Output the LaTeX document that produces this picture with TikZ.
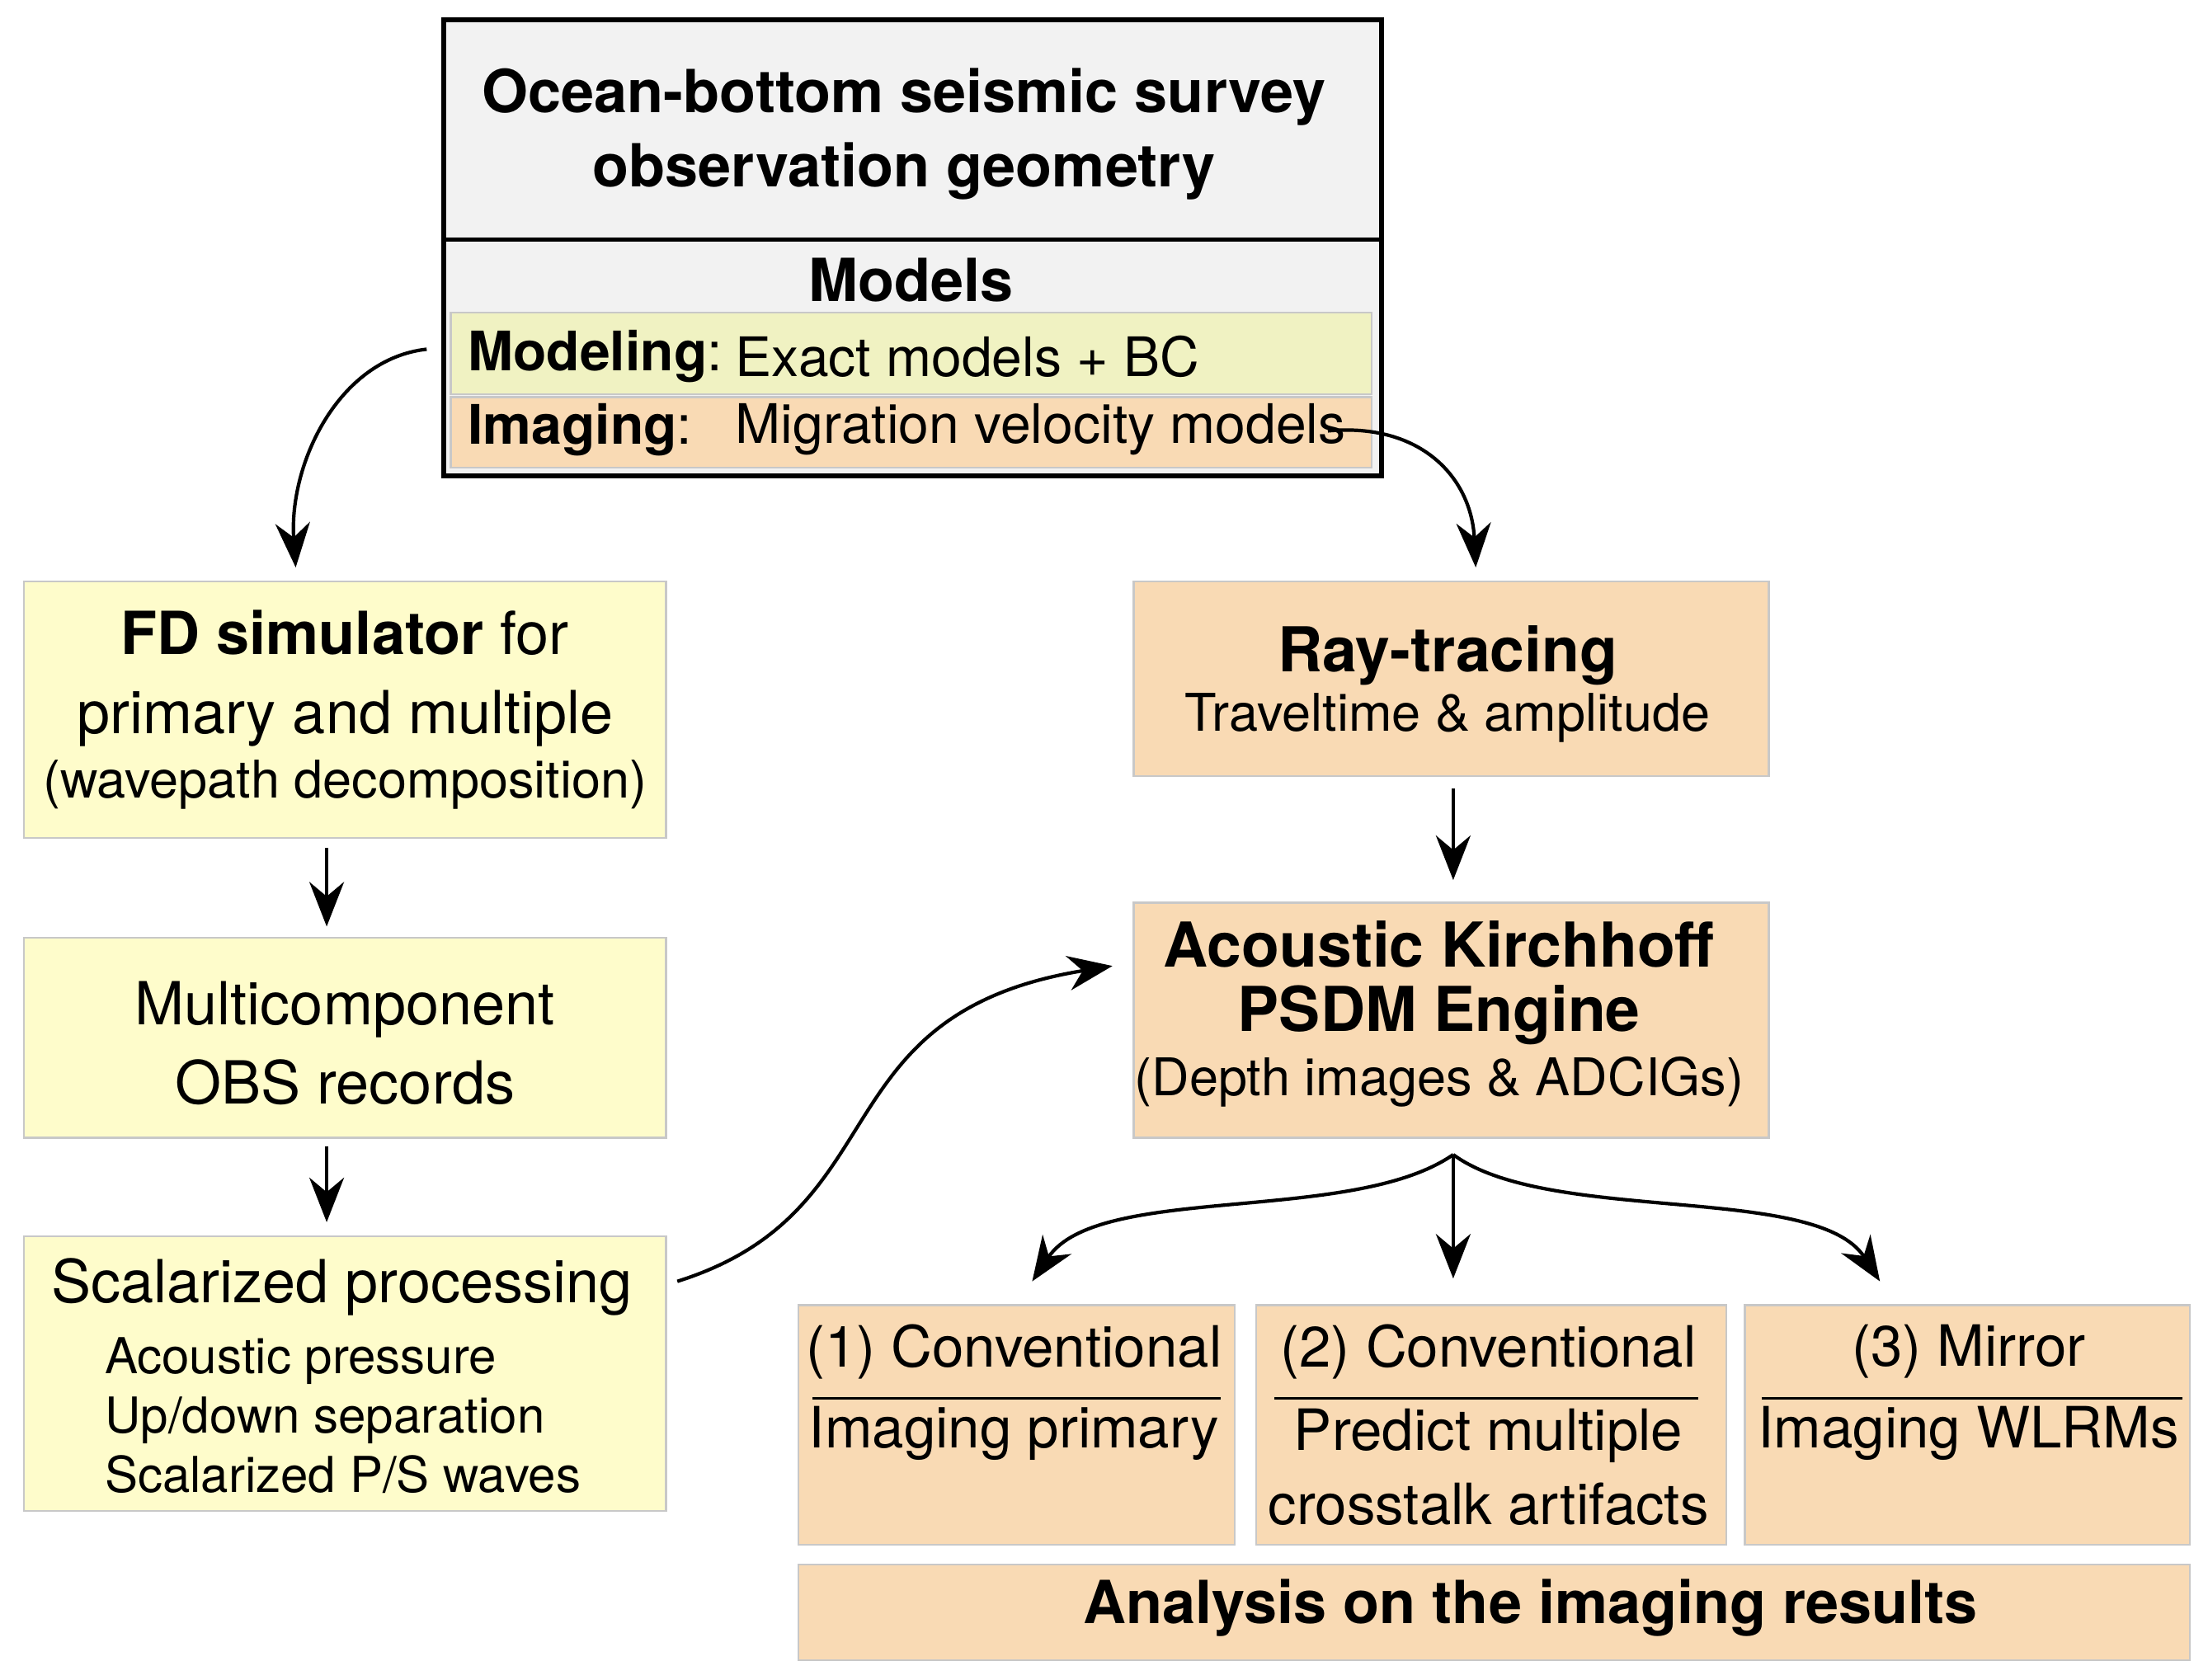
\documentclass[tikz,border=0pt]{standalone}
\usepackage{fontspec}
\setmainfont{TeX Gyre Heros}
\usetikzlibrary{arrows.meta}
\definecolor{gy}{HTML}{F2F2F2}
\definecolor{yl}{HTML}{FEFCCB}
\definecolor{ylg}{HTML}{F0F2C2}
\definecolor{or}{HTML}{F9DAB4}
\definecolor{bd}{HTML}{C8C8C8}
\tikzset{
 bx/.style={draw=bd,line width=0.8pt},
 big/.style={font=\fontsize{12}{14}\selectfont},
 mid/.style={font=\fontsize{10}{12}\selectfont},
 arr/.style={-{Stealth[length=9pt,width=7pt]},line width=0.7pt},
}
\begin{document}
\begin{tikzpicture}[x=0.01cm,y=-0.01cm]
\useasboundingbox (0,0) rectangle (1568,1193);
% top box
\fill[gy] (315,14) rectangle (981,338);
\fill[ylg,draw=bd] (320,222) rectangle (974,280);
\fill[or,draw=bd] (320,282) rectangle (974,332);
\draw[line width=1pt] (315,14) rectangle (981,338);
\draw[line width=0.8pt] (315,170) -- (981,170);
\node[big,align=center] (t1) at (642,95) {\textbf{Ocean-bottom seismic survey}\\[1pt]\textbf{observation geometry}};
\node[big] (mod) at (647,199) {\textbf{Models}};
\node[font=\fontsize{11}{13}\selectfont,anchor=west] (m1) at (320,253) {\textbf{Modeling}:};
\node[font=\fontsize{11}{13}\selectfont,anchor=west] (m1b) at (510,253) {Exact models + BC};
\node[font=\fontsize{11}{13}\selectfont,anchor=west] (m2) at (320,305) {\textbf{Imaging}:};
\node[font=\fontsize{11}{13}\selectfont,anchor=west] (m2b) at (510,305) {Migration velocity models};
\coordinate (s1) at (303,248);
\coordinate (s2) at (943,306);
% left column
\fill[yl,draw=bd] (17,413) rectangle (473,595);
\node[big,align=center] (fd) at (245,504) {\textbf{FD simulator} for\\[2pt]primary and multiple\\[-1pt]{\fontsize{10.5}{12}\selectfont(wavepath decomposition)}};
\fill[yl,draw=bd] (17,666) rectangle (473,808);
\node[big,align=center] (mc) at (245,741) {Multicomponent\\[2pt]OBS records};
\fill[yl,draw=bd] (17,878) rectangle (473,1073);
\node[big,anchor=west] (sc) at (24,914) {Scalarized processing};
\node[mid,anchor=west,align=left] (sc2) at (62,1005) {Acoustic pressure\\Up/down separation\\Scalarized P/S waves};
% right
\fill[or,draw=bd] (805,413) rectangle (1256,551);
\node[align=center] (rt) at (1028,486) {{\fontsize{12.5}{15}\selectfont\textbf{Ray-tracing}}\\{\fontsize{10.5}{12}\selectfont Traveltime \& amplitude}};
\fill[or,draw=bd] (805,641) rectangle (1256,808);
\node[align=center] (ki) at (1022,720) {{\fontsize{12.5}{15}\selectfont\textbf{Acoustic Kirchhoff}}\\[1pt]{\fontsize{12.5}{15}\selectfont\textbf{PSDM Engine}}\\[1pt]{\fontsize{10.5}{12}\selectfont(Depth images \& ADCIGs)}};
\fill[or,draw=bd] (567,927) rectangle (877,1097);
\fill[or,draw=bd] (892,927) rectangle (1226,1097);
\fill[or,draw=bd] (1239,927) rectangle (1555,1097);
\fill[or,draw=bd] (567,1111) rectangle (1555,1179);
\draw[line width=0.6pt] (577,993) -- (867,993);
\draw[line width=0.6pt] (905,993) -- (1206,993);
\draw[line width=0.6pt] (1251,993) -- (1550,993);
\node[font=\fontsize{11.5}{14}\selectfont] (c1) at (720,960) {(1) Conventional};
\node[font=\fontsize{11.5}{14}\selectfont] (c1b) at (720,1018) {Imaging primary};
\node[font=\fontsize{11.5}{14}\selectfont] (c2) at (1057,960) {(2) Conventional};
\node[font=\fontsize{11.5}{14}\selectfont,align=center] (c2b) at (1057,1042) {Predict multiple\\[1pt]crosstalk artifacts};
\node[font=\fontsize{11.5}{14}\selectfont] (c3) at (1398,960) {(3) Mirror};
\node[font=\fontsize{11.5}{14}\selectfont] (c3b) at (1398,1018) {Imaging WLRMs};
\node[big] (an) at (1087,1142) {\textbf{Analysis on the imaging results}};
% arrows
\coordinate (a1) at (210,403);
\coordinate (a2) at (1048,403);
\draw[arr] (s1) .. controls (240,255) and (205,330) .. (a1);
\draw[arr] (s2) .. controls (1010,300) and (1045,340) .. (a2);
\coordinate (f1) at (232,602); \coordinate (f2) at (232,658);
\draw[arr] (f1) -- (f2);
\coordinate (g1) at (232,814); \coordinate (g2) at (232,868);
\draw[arr] (g1) -- (g2);
\coordinate (r1) at (1032,560); \coordinate (r2) at (1032,625);
\draw[arr] (r1) -- (r2);
\coordinate (h1) at (481,910); \coordinate (h2) at (790,686);
\draw[arr] (h1) .. controls (640,860) and (580,720) .. (h2);
\coordinate (k0) at (1032,820);
\coordinate (k1) at (733,910); \coordinate (k2) at (1032,908); \coordinate (k3) at (1335,910);
\draw[arr] (k0) -- (k2);
\draw[arr] (k0) .. controls (960,870) and (780,840) .. (k1);
\draw[arr] (k0) .. controls (1100,870) and (1290,840) .. (k3);
\end{tikzpicture}
\end{document}
